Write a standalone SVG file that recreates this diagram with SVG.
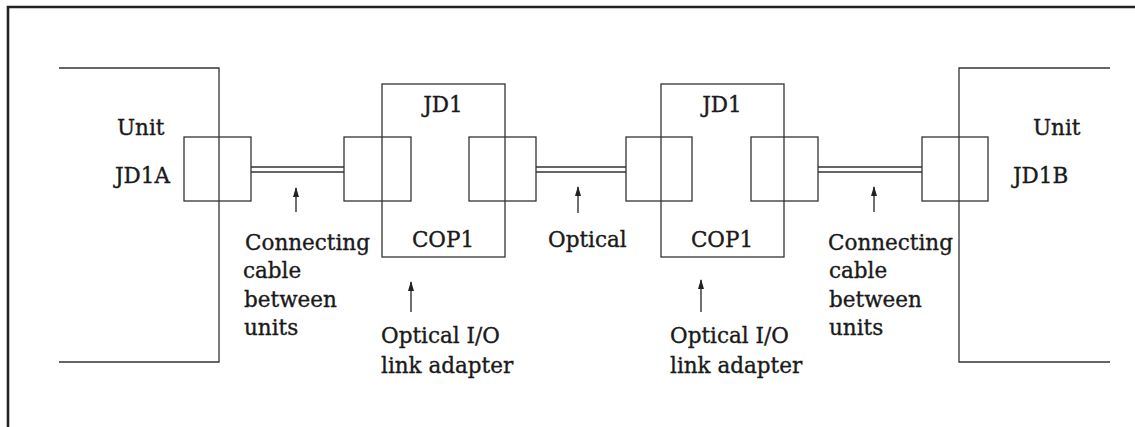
<svg xmlns="http://www.w3.org/2000/svg" width="1135" height="427" viewBox="0 0 1135 427">
<defs>
<style>
.ln{fill:none;stroke:#333;stroke-width:1.3}
.bx{fill:none;stroke:#333;stroke-width:1.3}
.fr{fill:none;stroke:#222;stroke-width:2.6}
.t{font-family:"DejaVu Serif","Liberation Serif",serif;font-size:21.5px;fill:#1a1a1a;stroke:#1a1a1a;stroke-width:0.35}
.m{text-anchor:middle}
.ar{stroke:#222;stroke-width:1.3;fill:none}
</style>
<marker id="ah" viewBox="0 0 10 6" refX="9" refY="3" markerWidth="10" markerHeight="6" markerUnits="userSpaceOnUse" orient="auto">
<path d="M0,0 L10,3 L0,6 Z" fill="#222"/>
</marker>
</defs>
<rect width="1135" height="427" fill="#fff"/>
<path class="fr" d="M8,427 L8,7 L1135,7"/>

<g id="unit-left">
<path class="ln" d="M59,68 L219,68 L219,362 L59,362"/>
<rect class="bx" x="184" y="137" width="67" height="64"/>
<text class="t" x="117" y="135">Unit</text>
<text class="t" x="115" y="183">JD1A</text>
</g>

<g id="adapter-1">
<rect class="bx" x="382" y="84" width="123" height="173"/>
<rect class="bx" x="344" y="137" width="67" height="64"/>
<rect class="bx" x="469" y="137" width="67" height="64"/>
<text class="t m" x="443" y="112">JD1</text>
<text class="t m" x="443" y="247">COP1</text>
</g>

<g id="adapter-2">
<rect class="bx" x="661" y="84" width="123" height="173"/>
<rect class="bx" x="626" y="137" width="66" height="64"/>
<rect class="bx" x="751" y="137" width="67" height="64"/>
<text class="t m" x="722" y="112">JD1</text>
<text class="t m" x="722" y="247">COP1</text>
</g>

<g id="unit-right">
<path class="ln" d="M1110,68 L959,68 L959,362 L1110,362"/>
<rect class="bx" x="922" y="137" width="66" height="64"/>
<text class="t" x="1033" y="135">Unit</text>
<text class="t" x="1013" y="183">JD1B</text>
</g>

<g id="connectors">
<path class="ln" d="M251,167 H344 M251,172 H344"/>
<path class="ln" d="M536,167 H626 M536,172 H626"/>
<path class="ln" d="M818,167 H922 M818,172 H922"/>
<line class="ar" x1="296" y1="212" x2="296" y2="188" marker-end="url(#ah)"/>
<line class="ar" x1="578" y1="213" x2="578" y2="187" marker-end="url(#ah)"/>
<line class="ar" x1="874" y1="212" x2="874" y2="187" marker-end="url(#ah)"/>
<line class="ar" x1="411" y1="312" x2="411" y2="282" marker-end="url(#ah)"/>
<line class="ar" x1="701" y1="312" x2="701" y2="280" marker-end="url(#ah)"/>
</g>

<g id="labels">
<text class="t" x="245" y="250">Connecting</text>
<text class="t" x="243" y="278">cable</text>
<text class="t" x="244" y="307">between</text>
<text class="t" x="244" y="335">units</text>
<text class="t" x="548" y="247">Optical</text>
<text class="t" x="381" y="343">Optical I/O</text>
<text class="t" x="381" y="373">link adapter</text>
<text class="t" x="670" y="343">Optical I/O</text>
<text class="t" x="670" y="373">link adapter</text>
<text class="t" x="828" y="250">Connecting</text>
<text class="t" x="829" y="278">cable</text>
<text class="t" x="829" y="307">between</text>
<text class="t" x="829" y="335">units</text>
</g>
</svg>
